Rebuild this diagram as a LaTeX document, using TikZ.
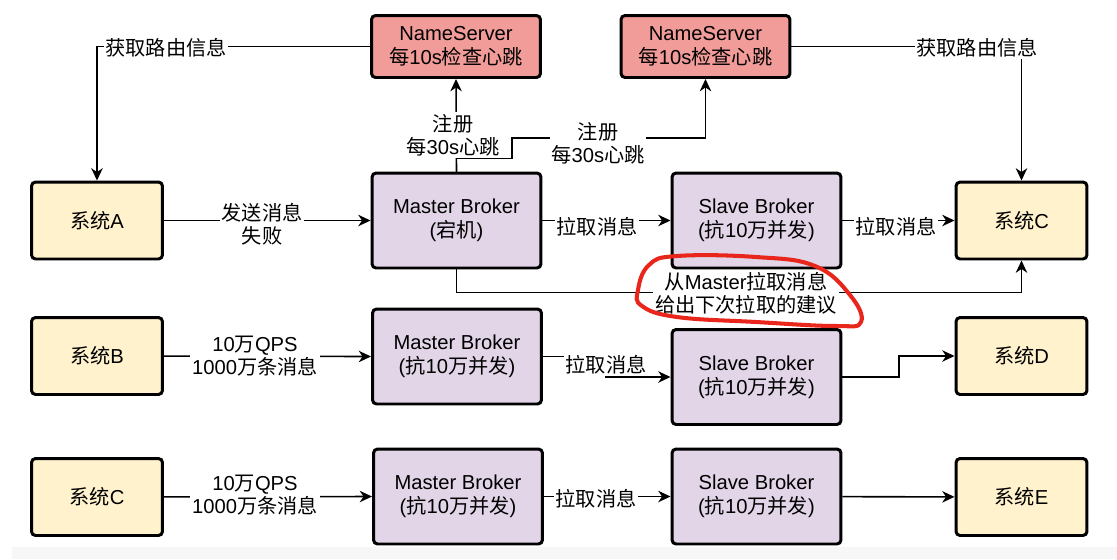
\documentclass[tikz,border=0pt]{standalone}
\usepackage{fontspec}
\setmainfont{Liberation Sans}
\newfontfamily\cjk{Noto Sans CJK SC}
\newcommand{\zh}[1]{{\cjk #1}}
\usetikzlibrary{arrows.meta}
\definecolor{sysfill}{HTML}{FFF2CC}
\definecolor{brkfill}{HTML}{E1D5E7}
\definecolor{nsfill}{HTML}{F19C99}
\definecolor{markred}{HTML}{E8261C}
\tikzset{
  box/.style={draw=black,line width=1.7pt,rounded corners=2.3pt,align=center,inner sep=1pt,font=\fontsize{11.5}{13.4}\selectfont},
  sysbox/.style={box,fill=sysfill,minimum width=2.62cm,minimum height=1.54cm},
  brkbox/.style={box,fill=brkfill,minimum width=3.38cm,minimum height=1.9cm},
  nsbox/.style={box,fill=nsfill,minimum width=3.38cm,minimum height=1.24cm},
  arr/.style={draw=black,line width=0.9pt,-{Stealth[length=7pt,width=6.5pt,inset=2.2pt]}},
  lbl/.style={fill=white,align=center,inner sep=1pt,font=\fontsize{11.5}{13}\selectfont},
}
\begin{document}
\begin{tikzpicture}[x=0.02cm,y=-0.02cm]
            \useasboundingbox (0,0) rectangle (1117,559);
            \fill[white] (0,0) rectangle (1117,559);
            \fill[black!3] (12,547) rectangle (1117,559);
            % name servers
            \node[nsbox] (ns1) at (456,46.5) {NameServer\\\zh{每}10s\zh{检查心跳}};
            \node[nsbox] (ns2) at (705.5,46.5) {NameServer\\\zh{每}10s\zh{检查心跳}};
            % row 1
            \node[sysbox] (sysA) at (97,220.5) {\zh{系统}A};
            \node[brkbox] (mb1) at (456.5,220.5) {Master Broker\\(\zh{宕机})};
            \node[brkbox] (sb1) at (756.5,220.5) {Slave Broker\\(\zh{抗}10\zh{万并发})};
            \node[sysbox] (sysC) at (1021.5,220.5) {\zh{系统}C};
            % row 2
            \node[sysbox] (sysB) at (97,356) {\zh{系统}B};
            \node[brkbox] (mb2) at (457,356.5) {Master Broker\\(\zh{抗}10\zh{万并发})};
            \node[brkbox] (sb2) at (756.5,377) {Slave Broker\\(\zh{抗}10\zh{万并发})};
            \node[sysbox] (sysD) at (1021.5,356) {\zh{系统}D};
            % row 3
            \node[sysbox] (sysCb) at (97,497) {\zh{系统}C};
            \node[brkbox] (mb3) at (458,496.5) {Master Broker\\(\zh{抗}10\zh{万并发})};
            \node[brkbox] (sb3) at (756.5,496.5) {Slave Broker\\(\zh{抗}10\zh{万并发})};
            \node[sysbox] (sysE) at (1021.5,497) {\zh{系统}E};
            \coordinate (m2mid) at (606,367);
            \coordinate (s2mid) at (899,367);
            \coordinate (regup) at (512,138);
            % connectors
            \draw[arr] (ns1.west) -| (sysA.north);
            \draw[arr] (ns2.east) -| (sysC.north);
            \draw[arr] (sysA) -- (mb1);
            \draw[arr] (mb1.north) -- (ns1.south);
            \draw[arr] (mb1.north) -- ++(0,-13) -| (regup) -| (ns2.south);
            \draw[arr] (mb1) -- (sb1);
            \draw[arr] (sb1) -- (sysC);
            \draw[arr] (mb1.south) -- ++(0,23) -| (sysC.south);
            \draw[arr] (sysB) -- (mb2.west);
            \draw[arr] (mb2.east |- 0,356.5) -| (m2mid) |- (sb2.west);
            \draw[arr] (sb2.east) -| (s2mid) |- (sysD.west);
            \draw[arr] (sysCb) -- (mb3.west);
            \draw[arr] (mb3) -- (sb3);
            \draw[arr] (sb3) -- (sysE);
            % labels
            \node[lbl] (l1) at (166,48) {\zh{获取路由信息}};
            \node[lbl] (l2) at (977,48) {\zh{获取路由信息}};
            \node[lbl] (l3) at (262,224) {\zh{发送消息}\\\zh{失败}};
            \node[lbl] (l4) at (453,135) {\zh{注册}\\\zh{每}30s\zh{心跳}};
            \node[lbl] (l5) at (598,143) {\zh{注册}\\\zh{每}30s\zh{心跳}};
            \node[lbl] (l6) at (597,227) {\zh{拉取消息}};
            \node[lbl] (l7) at (896,227) {\zh{拉取消息}};
            \node[lbl] (l8) at (746,293) {\zh{从}Master\zh{拉取消息}\\\zh{给出下次拉取的建议}};
            \node[lbl] (l9) at (255,356) {10\zh{万}QPS\\1000\zh{万条消息}};
            \node[lbl] (l10) at (606,365) {\zh{拉取消息}};
            \node[lbl] (l11) at (255,495) {10\zh{万}QPS\\1000\zh{万条消息}};
            \node[lbl] (l12) at (596,499) {\zh{拉取消息}};
            % red mark
            \draw[markred,line width=2.3pt] plot[smooth cycle,tension=0.7] coordinates {(638,290) (649,265) (677,256) (756,257) (815,266) (850,295) (861,322) (835,326) (756,322) (677,317) (642,306)};
        \end{tikzpicture}
\end{document}
